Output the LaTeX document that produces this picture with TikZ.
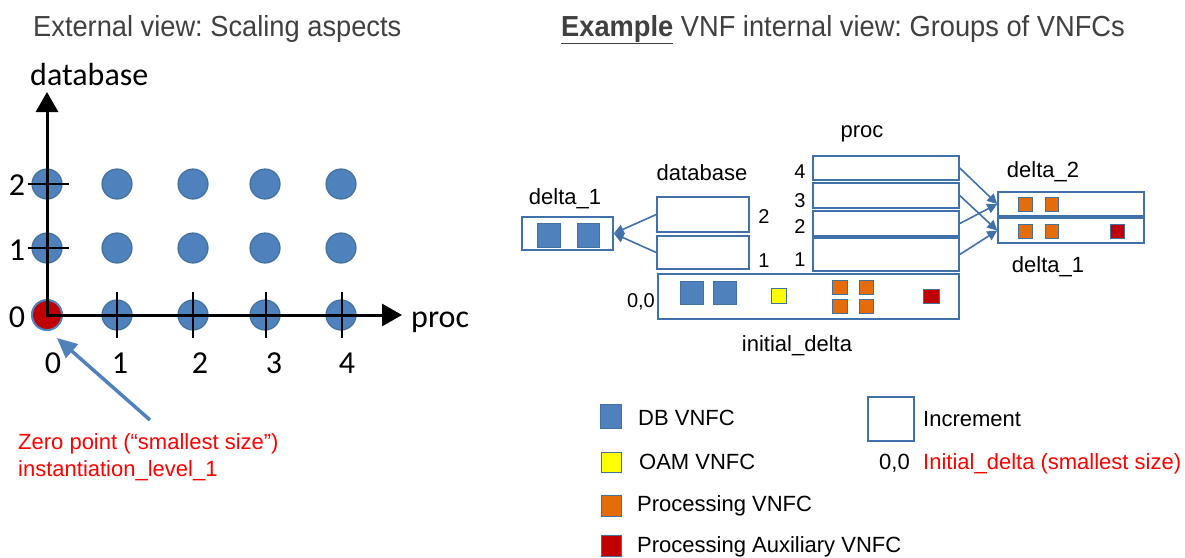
\documentclass[tikz,border=0pt]{standalone}
\usepackage{fontspec}
\setmainfont{Liberation Sans}
\newfontfamily\calfont{Carlito}
\usetikzlibrary{arrows.meta}
\frenchspacing

\definecolor{dotblue}{RGB}{79,129,189}
\definecolor{dotedge}{RGB}{65,113,156}
\definecolor{boxblue}{RGB}{65,113,170}
\definecolor{procorange}{RGB}{228,108,10}
\definecolor{auxred}{RGB}{192,0,0}
\definecolor{oamyellow}{RGB}{255,255,0}
\definecolor{titlegray}{RGB}{64,64,64}
\definecolor{notered}{RGB}{255,0,0}

\tikzset{
  lvl/.style={circle,fill=dotblue,draw=dotedge,line width=1.2pt,minimum size=30pt,inner sep=0pt},
  axis/.style={line width=3pt,-{Triangle[length=20pt,width=22pt]}},
  tickmark/.style={line width=2.5pt},
  axlbl/.style={font=\calfont\fontsize{32}{36}\selectfont,inner sep=0pt,anchor=base},
  headline/.style={font=\fontsize{29}{34}\selectfont,text=titlegray,inner sep=0pt,anchor=base west,xscale=0.94},
  note/.style={font=\fontsize{22}{26}\selectfont,text=notered,inner sep=0pt,anchor=base west},
  pointer/.style={draw=dotblue,line width=3.5pt,-{Triangle[length=20pt,width=18pt]}},
  incr/.style={draw=boxblue,line width=1.5pt,inner sep=0pt},
  lbl/.style={font=\fontsize{22}{26}\selectfont,inner sep=0pt,anchor=base},
  num/.style={font=\fontsize{20}{24}\selectfont,inner sep=0pt,anchor=base},
  flow/.style={draw=boxblue,line width=1.6pt,-{Triangle[length=10pt,width=10pt]}},
  dbsq/.style={fill=dotblue,draw=dotedge,line width=1pt},
  oamsq/.style={fill=oamyellow,draw=dotedge,line width=1pt},
  procsq/.style={fill=procorange,draw=dotedge,line width=1pt},
  auxsq/.style={fill=auxred,draw=dotedge,line width=1pt}
}

\begin{document}
\begin{tikzpicture}[x=1pt,y=-1pt]
    \useasboundingbox (0,0) rectangle (1185,557);

    % left: external view
    \node[headline] (ltitle) at (33,36) {External view: Scaling aspects};

    \foreach \i/\x in {0/47,1/117,2/193,3/265,4/341}
      \foreach \j/\y in {0/315,1/248,2/184}
        \node[lvl] (l-\i-\j) at (\x,\y) {};
    \node[lvl,fill=auxred,draw=dotblue,line width=2pt] (zero) at (47,315) {};

    \draw[axis] (47,316.5) -- (47,92);
    \draw[axis] (45.5,315) -- (402,315);
    \foreach \y in {184,248}
      \draw[tickmark] (28,\y) -- (69,\y);
    \foreach \x in {117,193,266,342}
      \draw[tickmark] (\x,292) -- (\x,338);

    \node[axlbl,anchor=base west] (ylab) at (30,85) {database};
    \node[axlbl,anchor=base west] (xlab) at (411,327) {proc};
    \foreach \t/\y in {2/195,1/260,0/327}
      \node[axlbl] (ly\t) at (17,\y) {\t};
    \foreach \t/\x in {0/53,1/120,2/200,3/274,4/347}
      \node[axlbl] (lx\t) at (\x,373) {\t};

    \coordinate (ptrtail) at (150,420);
    \coordinate (ptrtip) at (57,338);
    \draw[pointer] (ptrtail) -- (ptrtip);
    \node[note] (zeronote) at (18,449) {Zero point (“smallest size”)};
    \node[note] (levelnote) at (18,476) {instantiation\_level\_1};

    % right: internal view
    \node[headline] (rtitle) at (561,36) {\underline{\textbf{Example}} VNF internal view: Groups of VNFCs};

    \node[incr,minimum width=91pt,minimum height=33pt] (dl) at (567.5,233.5) {};
    \node[incr,minimum width=92pt,minimum height=35pt] (db2) at (703,214.5) {};
    \node[incr,minimum width=92pt,minimum height=33pt] (db1) at (703,252.5) {};
    \node[incr,minimum width=146pt,minimum height=24pt] (p4) at (886,168) {};
    \node[incr,minimum width=146pt,minimum height=25pt] (p3) at (886,195.5) {};
    \node[incr,minimum width=146pt,minimum height=25pt] (p2) at (886,223.5) {};
    \node[incr,minimum width=146pt,minimum height=33pt] (p1) at (886,254.5) {};
    \node[incr,minimum width=301pt,minimum height=45pt] (init) at (808.5,296.5) {};
    \node[incr,minimum width=146pt,minimum height=24pt] (d2) at (1071,204) {};
    \node[incr,minimum width=146pt,minimum height=25pt] (d1) at (1071,230.5) {};

    \draw[dbsq] (537,223) rectangle (560,247)
                (577,223) rectangle (599,247)
                (680,281) rectangle (703,304)
                (713,281) rectangle (736,304);
    \draw[oamsq] (771,288) rectangle (786,303);
    \draw[procsq] (832,280) rectangle (847,294)
                  (859,280) rectangle (873,294)
                  (832,299) rectangle (847,313)
                  (859,299) rectangle (873,313)
                  (1018,197) rectangle (1032,211)
                  (1045,197) rectangle (1058,211)
                  (1018,224) rectangle (1032,238)
                  (1045,224) rectangle (1058,238);
    \draw[auxsq] (923,289) rectangle (939,303)
                 (1110,224) rectangle (1124,238);

    \draw[flow] (db2.west) -- (dl.east);
    \draw[flow] (db1.west) -- (dl.east);
    \draw[flow] (p4.east) -- (d2.west);
    \draw[flow] (p2.east) -- (d2.west);
    \draw[flow] (p3.east) -- (d1.west);
    \draw[flow] (p1.east) -- (d1.west);

    \node[lbl] (dll) at (565,204) {delta\_1};
    \node[lbl] (dbl) at (702,180) {database};
    \node[lbl] (pl) at (862,137) {proc};
    \node[lbl] (d2l) at (1043,177) {delta\_2};
    \node[lbl] (d1l) at (1048,272) {delta\_1};
    \node[lbl] (initl) at (797,351) {initial\_delta};
    \node[num,anchor=base east] (initn) at (655,307) {0,0};
    \node[num] (db2n) at (764,223) {2};
    \node[num] (db1n) at (764,267) {1};
    \foreach \t/\y in {4/178,3/207,2/233,1/266}
      \node[num] (p\t n) at (800,\y) {\t};

    % legend
    \draw[dbsq] (600,404) rectangle (621,428);
    \draw[oamsq] (601,452) rectangle (621,472);
    \draw[procsq] (601,495) rectangle (621,516);
    \draw[auxsq] (601,535) rectangle (621,556);
    \node[lbl,anchor=base west] (kdb) at (638,425) {DB VNFC};
    \node[lbl,anchor=base west] (koam) at (639,469) {OAM VNFC};
    \node[lbl,anchor=base west] (kproc) at (637,511) {Processing VNFC};
    \node[lbl,anchor=base west] (kaux) at (637,552) {Processing Auxiliary VNFC};
    \node[incr,minimum width=46pt,minimum height=44pt] (kinc) at (891,419) {};
    \node[lbl,anchor=base west] (kincl) at (923,426) {Increment};
    \node[lbl,anchor=base east] (kzero) at (910,469) {0,0};
    \node[lbl,anchor=base west,text=notered] (kinit) at (923,469) {Initial\_delta (smallest size)};
\end{tikzpicture}
\end{document}
